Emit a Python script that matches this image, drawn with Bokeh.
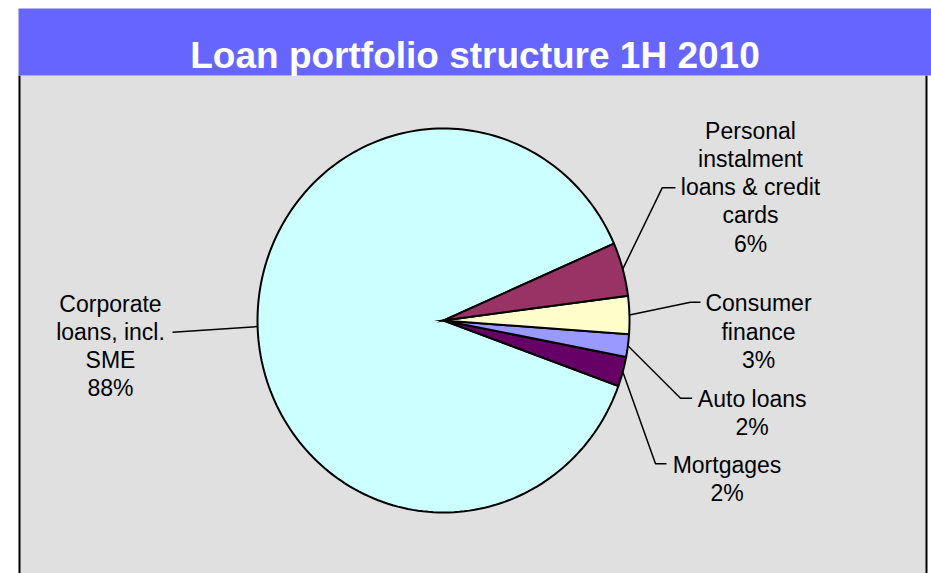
import numpy as np
from bokeh.plotting import figure
from bokeh.models import Range1d
from bokeh.core.properties import value
from bokeh.embed import file_html
from bokeh.resources import INLINE

# ---------------- data ----------------
title = "Loan portfolio structure 1H 2010"
categories = ["Corporate loans, incl. SME", "Mortgages", "Auto loans",
              "Consumer finance", "Personal instalment loans & credit cards"]
shares = [87.9, 2.5, 1.9, 3.2, 4.5]          # slice sizes as drawn (counter-clockwise order)
pct_labels = ["88%", "2%", "2%", "3%", "6%"]
label_lines = [["Corporate", "loans, incl.", "SME"],
               ["Mortgages"],
               ["Auto loans"],
               ["Consumer", "finance"],
               ["Personal", "instalment", "loans & credit", "cards"]]

# ---------------- styles / layout ----------------
colors = ["#CCFFFF", "#660066", "#9999FF", "#FFFFCC", "#993366"]
CX, CY, RX, RY = 443.0, 320.0, 186.0, 192.0
START_DEG = 23.6
FONT = "Liberation Sans"
LABEL_SIZE = 23
LINE_STEP = 28.3
label_anchor = [(110, 303), (726.5, 464), (751.7, 398), (758, 302.7), (750, 130)]
leader_elbow = [(172, 331.7, 172), (655, 463.3, 666), (680, 397.7, 691.7),
                (690, 301.7, 700), (661.7, 187.3, 675)]

W, H = 931, 573
p = figure(width=W, height=H, output_backend="svg", toolbar_location=None,
           x_range=Range1d(0, W), y_range=Range1d(H, 0),
           x_axis_location=None, y_axis_location=None,
           min_border=0, outline_line_color=None,
           background_fill_color="white", border_fill_color="white")
p.grid.visible = False

# background panel and title bar
p.quad(left=[18], right=[926], top=[75], bottom=[H + 10],
       fill_color="#E0E0E0", line_color=None)
p.segment(x0=[19, 926], y0=[75, 75], x1=[19, 926], y1=[H + 10, H + 10],
          line_color="black", line_width=2)
p.quad(left=[18], right=[W + 5], top=[8], bottom=[75],
       fill_color="#6666FF", line_color=None)
p.text(x=[(18 + W) / 2], y=[55], text=[title], text_color="white",
       text_font=value(FONT), text_font_size="37px", text_font_style="bold",
       text_align="center", text_baseline="alphabetic")

# pie slices (elliptical, computed from shares)
total = float(sum(shares))
angles = np.deg2rad(START_DEG + 360.0 * np.concatenate([[0], np.cumsum(shares)]) / total)
xs, ys, mids = [], [], []
for i in range(len(shares)):
    t = np.linspace(angles[i], angles[i + 1], 200)
    xs.append(list(np.concatenate([[CX], CX + RX * np.cos(t)])))
    ys.append(list(np.concatenate([[CY], CY - RY * np.sin(t)])))
    mids.append((angles[i] + angles[i + 1]) / 2)
p.patches(xs=xs, ys=ys, fill_color=colors, line_color="black", line_width=2,
          line_join="miter")

# leader lines
lx, ly = [], []
for m, (ex, ey, endx) in zip(mids, leader_elbow):
    px, py = CX + RX * np.cos(m), CY - RY * np.sin(m)
    lx.append([px, ex, endx])
    ly.append([py, ey, ey])
p.multi_line(xs=lx, ys=ly, line_color="black", line_width=1.5)

# labels
tx, ty, tt = [], [], []
for (ax, ay), lines, pct in zip(label_anchor, label_lines, pct_labels):
    for j, s in enumerate(lines + [pct]):
        tx.append(ax)
        ty.append(ay + j * LINE_STEP)
        tt.append(s)
p.text(x=tx, y=ty, text=tt, text_color="black", text_font=value(FONT),
       text_font_size=f"{LABEL_SIZE}px", text_align="center",
       text_baseline="alphabetic")

open("out.html", "w").write(file_html(p, INLINE))
